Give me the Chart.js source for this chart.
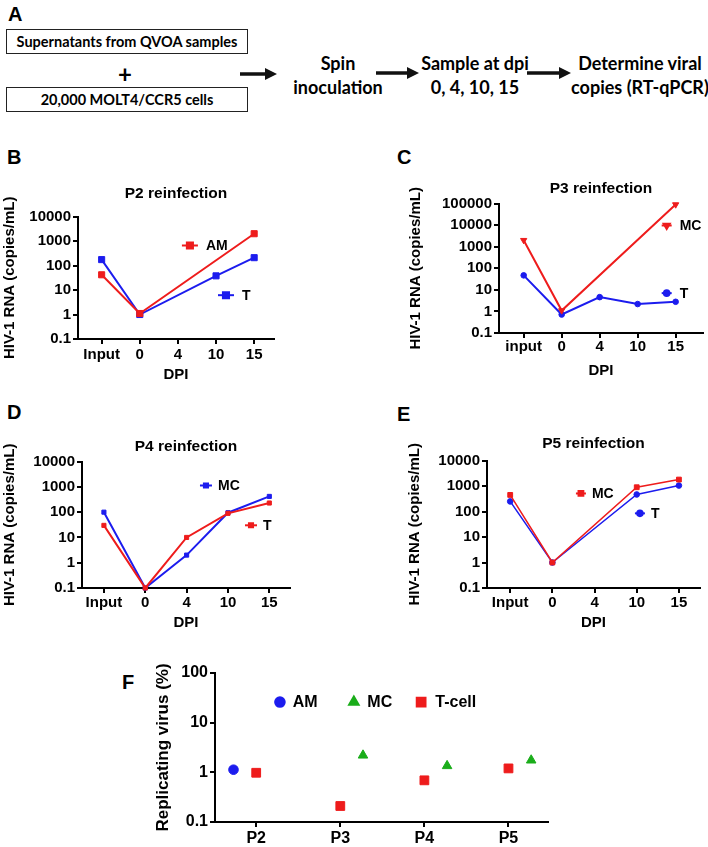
<!DOCTYPE html>
<html lang="en">
<head>
<meta charset="UTF-8">
<title>QVOA supernatant reinfection</title>
<script src="https://cdn.jsdelivr.net/npm/chart.js"></script>
<style>
  body { margin: 0; background: white; font-family: "Liberation Sans", Arial, sans-serif; }
  #page { position: relative; width: 708px; height: 847px; overflow: hidden; }
  .letter { position: absolute; font-weight: bold; font-size: 20px; line-height: 20px; }
  .box {
    position: absolute; box-sizing: border-box; border: 1.5px solid #222;
    display: flex; align-items: center; justify-content: center;
    font-family: Lato, sans-serif; font-weight: bold; font-size: 14.5px;
  }
  .step {
    position: absolute; transform: translateX(-50%); text-align: center; white-space: nowrap;
    font-family: Lato, sans-serif; font-weight: bold; font-size: 18px; line-height: 24px;
  }
  canvas { position: absolute; }
</style>
</head>
<body>
<div id="page">
  <!-- panel A: workflow -->
  <div class="letter" style="left:8px;top:4px">A</div>
  <div class="box" style="left:6px;top:29px;width:242px;height:25px">Supernatants from QVOA samples</div>
  <div class="step" style="left:125px;top:62px;font-size:24px">+</div>
  <div class="box" style="left:6px;top:87px;width:242px;height:25px">20,000 MOLT4/CCR5 cells</div>
  <svg style="position:absolute;left:0;top:0" width="708" height="120">
    <g fill="#111" stroke="#111">
      <line x1="240" y1="74" x2="267" y2="74" stroke-width="3.5"/>
      <polygon points="265,68 277,74 265,80" stroke="none"/>
      <line x1="376" y1="73" x2="409" y2="73" stroke-width="3.5"/>
      <polygon points="407,67 419,73 407,79" stroke="none"/>
      <line x1="527" y1="73" x2="561" y2="73" stroke-width="3.5"/>
      <polygon points="559,67 571,73 559,79" stroke="none"/>
    </g>
  </svg>
  <div class="step" style="left:338px;top:51px">Spin<br>inoculation</div>
  <div class="step" style="left:475px;top:51px">Sample at dpi<br>0, 4, 10, 15</div>
  <div class="step" style="left:640px;top:51px">Determine viral<br>copies (RT-qPCR)</div>

  <div class="letter" style="left:7px;top:147px">B</div>
  <div class="letter" style="left:397px;top:147px">C</div>
  <div class="letter" style="left:7px;top:402px">D</div>
  <div class="letter" style="left:397px;top:404px">E</div>
  <div class="letter" style="left:122px;top:672px">F</div>

  <canvas id="chartB" width="290" height="214" style="left:0px;top:170px"></canvas>
  <canvas id="chartC" width="304" height="220" style="left:404px;top:160px"></canvas>
  <canvas id="chartD" width="300" height="212" style="left:0px;top:420px"></canvas>
  <canvas id="chartE" width="306" height="212" style="left:402px;top:420px"></canvas>
  <canvas id="chartF" width="420" height="187" style="left:140px;top:660px"></canvas>
</div>

<script>
  // ---- data ----
  const dpiLabels = ['Input', '0', '4', '10', '15'];
  const dpiLabelsC = ['input', '0', '4', '10', '15'];

  const p2AM = [42, 1.1, null, null, 2000];
  const p2T = [175, 1, null, 38, 210];

  const p3MC = [2000, 1.1, null, null, 90000];
  const p3T = [47, 0.72, 4.6, 2.2, 2.8];

  const p4T = [30, 0.1, 10, 90, 230];
  const p4MC = [100, 0.1, 2, 95, 420];

  const p5MC = [450, 1, null, 900, 1800];
  const p5T = [250, 1, null, 470, 1050];

  const rnaTicks = [0.1, 1, 10, 100, 1000, 10000];
  const rnaTicksC = [0.1, 1, 10, 100, 1000, 10000, 100000];

  const patients = ['P2', 'P3', 'P4', 'P5'];
  const replAM = [1.13, null, null, null];
  const replMC = [null, 2.2, 1.35, 1.75];
  const replT = [0.98, 0.21, 0.69, 1.2];
  const replTicks = [0.1, 1, 10, 100];

  const RED = '#ee1c1c';
  const BLUE = '#1c1cee';
  const GREEN = '#1aad1a';

  Chart.defaults.font.family = '"Liberation Sans", Arial, sans-serif';
  Chart.defaults.font.weight = 'bold';
  Chart.defaults.color = 'black';

  function drawMarker(ctx, style, r, rot, x, y) {
    if (Chart.helpers && Chart.helpers.drawPoint) {
      Chart.helpers.drawPoint(ctx, { pointStyle: style, radius: r, rotation: rot, borderWidth: 1 }, x, y);
      return;
    }
    ctx.beginPath();
    ctx.arc(x, y, r, 0, Math.PI * 2);
    ctx.fill();
  }

  // in-plot labels like the GraphPad legends
  const panelLegend = {
    id: 'panelLegend',
    afterDraw(chart, args, opts) {
      if (!opts.items) return;
      const { ctx, chartArea: a } = chart;
      ctx.save();
      ctx.font = opts.font;
      ctx.textBaseline = 'middle';
      opts.items.forEach(it => {
        const cx = a.left + it.fx * a.width;
        const cy = a.top + it.fy * a.height;
        ctx.strokeStyle = it.color;
        ctx.fillStyle = it.color;
        ctx.lineWidth = opts.lineWidth;
        if (it.half) {
          ctx.beginPath();
          ctx.moveTo(cx - it.half, cy);
          ctx.lineTo(cx + it.half, cy);
          ctx.stroke();
        }
        drawMarker(ctx, it.marker, it.size, it.rotation || 0, cx, cy);
        ctx.fillStyle = 'black';
        ctx.fillText(it.text, cx + (it.half || it.size) + opts.gap, cy + 1);
      });
      ctx.restore();
    }
  };

  function axisGrid() {
    return { drawOnChartArea: false, tickLength: 5, color: 'black', lineWidth: 2 };
  }

  function linePanel(id, p) {
    new Chart(document.getElementById(id), {
      type: 'line',
      data: {
        datasets: p.series.map(s => ({
          label: s.label,
          data: s.values.map((v, i) => ({ x: i, y: v })),
          borderColor: s.color,
          backgroundColor: s.color,
          pointBackgroundColor: s.color,
          pointBorderColor: s.color,
          borderWidth: p.lineWidth,
          pointStyle: s.marker,
          pointRadius: s.size,
          pointRotation: s.rotation || 0,
          pointBorderWidth: 1,
          spanGaps: true,
          clip: false
        }))
      },
      options: {
        responsive: false,
        animation: false,
        events: [],
        layout: { padding: { right: p.padRight } },
        plugins: {
          legend: { display: false },
          tooltip: { enabled: false },
          title: {
            display: true, text: p.title, fullSize: false,
            font: { size: 15.5, weight: 'bold' },
            padding: { top: p.titleTop, bottom: p.titleBottom }
          },
          panelLegend: { items: p.legend, gap: p.gap, font: 'bold 14px "Liberation Sans", Arial', lineWidth: 2 }
        },
        scales: {
          x: {
            type: 'linear',
            min: p.xMin, max: p.xMax,
            afterBuildTicks: ax => { ax.ticks = p.categories.map((c, i) => ({ value: i })); },
            afterFit: sc => { sc.height = p.xHeight; },
            ticks: { callback: v => p.categories[v], autoSkip: false, maxRotation: 0, padding: p.xPad, font: { size: 15 } },
            grid: axisGrid(),
            border: { color: 'black', width: 2 },
            title: { display: true, text: 'DPI', font: { size: 15 }, padding: 0 }
          },
          y: {
            type: 'logarithmic',
            min: p.yTicks[0], max: p.yTicks[p.yTicks.length - 1],
            afterBuildTicks: ax => { ax.ticks = p.yTicks.map(v => ({ value: v })); },
            afterFit: sc => { sc.width = p.yWidth; },
            ticks: { callback: v => String(v), padding: 2, font: { size: 15 } },
            grid: axisGrid(),
            border: { color: 'black', width: 2 },
            title: { display: true, text: 'HIV-1 RNA (copies/mL)', font: { size: 15 }, padding: { top: p.yTitlePad, bottom: 0 } }
          }
        }
      },
      plugins: [panelLegend]
    });
  }

  linePanel('chartB', {
    title: 'P2 reinfection', categories: dpiLabels, yTicks: rnaTicks,
    xMin: -0.62, xMax: 4.52, yWidth: 78, yTitlePad: 1, xHeight: 45, xPad: 2,
    titleTop: 14, titleBottom: 14, padRight: 16, lineWidth: 2, gap: 8,
    series: [
      { label: 'AM', values: p2AM, color: RED, marker: 'rect', size: 4.3 },
      { label: 'T', values: p2T, color: BLUE, marker: 'rect', size: 4.3 }
    ],
    legend: [
      { text: 'AM', color: RED, marker: 'rect', size: 4.3, half: 8, fx: 0.571, fy: 0.236 },
      { text: 'T', color: BLUE, marker: 'rect', size: 4.3, half: 8, fx: 0.755, fy: 0.642 }
    ]
  });

  linePanel('chartC', {
    title: 'P3 reinfection', categories: dpiLabelsC, yTicks: rnaTicksC,
    xMin: -0.65, xMax: 4.72, yWidth: 95, yTitlePad: 3, xHeight: 47, xPad: 0,
    titleTop: 19, titleBottom: 6, padRight: 1, lineWidth: 2, gap: 8,
    series: [
      { label: 'MC', values: p3MC, color: RED, marker: 'triangle', size: 3.6, rotation: 180 },
      { label: 'T', values: p3T, color: BLUE, marker: 'circle', size: 2.8 }
    ],
    legend: [
      { text: 'MC', color: RED, marker: 'triangle', size: 3.6, rotation: 180, half: 5, fx: 0.822, fy: 0.169 },
      { text: 'T', color: BLUE, marker: 'circle', size: 2.8, half: 5, fx: 0.822, fy: 0.692 }
    ]
  });

  linePanel('chartD', {
    title: 'P4 reinfection', categories: dpiLabels, yTicks: rnaTicks,
    xMin: -0.53, xMax: 4.5, yWidth: 82, yTitlePad: 1, xHeight: 44, xPad: 1,
    titleTop: 17, titleBottom: 6, padRight: 10, lineWidth: 2, gap: 6,
    series: [
      { label: 'T', values: p4T, color: RED, marker: 'rect', size: 2.9 },
      { label: 'MC', values: p4MC, color: BLUE, marker: 'rect', size: 2.9 }
    ],
    legend: [
      { text: 'MC', color: BLUE, marker: 'rect', size: 2.9, half: 6, fx: 0.596, fy: 0.189 },
      { text: 'T', color: RED, marker: 'rect', size: 2.9, half: 6, fx: 0.8125, fy: 0.504 }
    ]
  });

  linePanel('chartE', {
    title: 'P5 reinfection', categories: dpiLabels, yTicks: rnaTicks,
    xMin: -0.55, xMax: 4.5, yWidth: 85, yTitlePad: 4, xHeight: 44, xPad: 1,
    titleTop: 14, titleBottom: 8, padRight: 8, lineWidth: 1.5, gap: 6,
    series: [
      { label: 'MC', values: p5MC, color: RED, marker: 'rect', size: 3.4 },
      { label: 'T', values: p5T, color: BLUE, marker: 'circle', size: 2.8 }
    ],
    legend: [
      { text: 'MC', color: RED, marker: 'rect', size: 3.4, half: 5, fx: 0.441, fy: 0.258 },
      { text: 'T', color: BLUE, marker: 'circle', size: 2.8, half: 5, fx: 0.718, fy: 0.414 }
    ]
  });

  // ---- panel F: replicating virus per patient ----
  const dodge = { AM: -0.27, MC: 0.27, 'T-cell': 0 };
  const replSeries = [
    { label: 'AM', values: replAM, color: BLUE, marker: 'circle', size: 4.8 },
    { label: 'MC', values: replMC, color: GREEN, marker: 'triangle', size: 5.5 },
    { label: 'T-cell', values: replT, color: RED, marker: 'rect', size: 6.2 }
  ];

  new Chart(document.getElementById('chartF'), {
    type: 'scatter',
    data: {
      datasets: replSeries.map(s => ({
        label: s.label,
        data: s.values.map((v, i) => (v === null ? null : { x: i + 1 + dodge[s.label], y: v })).filter(Boolean),
        pointStyle: s.marker,
        pointRadius: s.size,
        pointBackgroundColor: s.color,
        pointBorderColor: s.color,
        pointBorderWidth: 1,
        clip: false
      }))
    },
    options: {
      responsive: false,
      animation: false,
      events: [],
      layout: { padding: { top: 13, right: 12 } },
      plugins: {
        legend: { display: false },
        tooltip: { enabled: false },
        panelLegend: {
          font: 'bold 16px "Liberation Sans", Arial', gap: 8, lineWidth: 2,
          items: [
            { text: 'AM', color: BLUE, marker: 'circle', size: 4.8, fx: 0.195, fy: 0.195 },
            { text: 'MC', color: GREEN, marker: 'triangle', size: 5.5, fx: 0.417, fy: 0.195 },
            { text: 'T-cell', color: RED, marker: 'rect', size: 6.2, fx: 0.619, fy: 0.195 }
          ]
        }
      },
      scales: {
        x: {
          type: 'linear', min: 0.51, max: 4.47,
          afterBuildTicks: ax => { ax.ticks = patients.map((c, i) => ({ value: i + 1 })); },
          afterFit: sc => { sc.height = 25; },
          ticks: { callback: v => patients[v - 1], autoSkip: false, maxRotation: 0, padding: 2, font: { size: 16 } },
          grid: axisGrid(),
          border: { color: 'black', width: 2 }
        },
        y: {
          type: 'logarithmic', min: 0.1, max: 100,
          afterBuildTicks: ax => { ax.ticks = replTicks.map(v => ({ value: v })); },
          afterFit: sc => { sc.width = 75; },
          ticks: { callback: v => String(v), padding: 2, font: { size: 16 } },
          grid: axisGrid(),
          border: { color: 'black', width: 2 },
          title: { display: true, text: 'Replicating virus (%)', font: { size: 17 }, padding: { top: 13, bottom: 0 } }
        }
      }
    },
    plugins: [panelLegend]
  });
</script>
</body>
</html>
